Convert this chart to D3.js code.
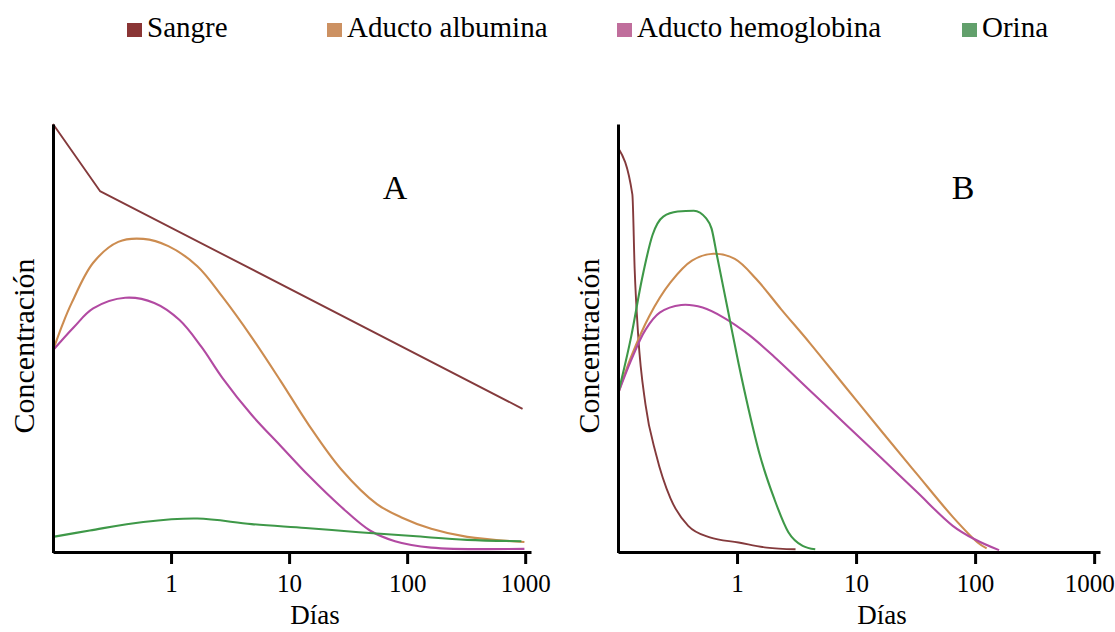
<!DOCTYPE html>
<html>
<head>
<meta charset="utf-8">
<script src="https://cdn.jsdelivr.net/npm/d3@7"></script>
<style>
  html, body { margin: 0; padding: 0; background: #fff; }
  svg { display: block; font-family: "Liberation Serif", "Times New Roman", serif; }
</style>
</head>
<body>
<div id="chart"></div>
<script>
// --- Data (x = días, y = concentración relativa) ---
const seriesNames = ["Sangre", "Aducto albumina", "Aducto hemoglobina", "Orina"];
const tickDays = [1, 10, 100, 1000];
const panelLabels = ["A", "B"];

// Panel A
const sangreA = [[0.1, 100], [0.25, 84.3], [950, 33.3]];
const albuminaA = [[0.1, 47], [0.121, 53.2], [0.144, 58.1], [0.219, 67.5], [0.357, 72.4], [0.582, 73.1], [0.949, 71.4],
  [1.67, 66.7], [2.73, 59.5], [4.81, 50.1], [8.49, 39.8], [14.7, 29.5], [27.7, 19.1], [55.5, 11.0],
  [90.6, 7.8], [160, 5.2], [323, 3.3], [985, 2.1]];
const hemoglobinaA = [[0.1, 47], [0.15, 52.4], [0.219, 56.8], [0.409, 59.3], [0.721, 58.1], [1.18, 54.1],
  [1.81, 47.8], [2.73, 40.5], [4.81, 31.9], [8.49, 24.6], [14.7, 17.6], [27.7, 10.3], [48.4, 4.8],
  [78.9, 2.3], [160, 0.8], [985, 0.5]];
const orinaA = [[0.1, 3.3], [0.205, 4.8], [0.582, 6.8], [1.67, 7.6], [4.81, 6.3], [13.8, 5.4],
  [39, 4.4], [112, 3.5], [323, 2.6], [929, 2.3]];

// Panel B
const sangreB = [[0.1, 94.5], [0.132, 83.5], [0.138, 66.1], [0.148, 50.2], [0.17, 34.4], [0.209, 22.6],
  [0.276, 12.3], [0.389, 5.9], [0.591, 3.2], [1.03, 2.0], [1.78, 0.8], [3.1, 0.4]];
const albuminaB = [[0.1, 36.8], [0.129, 45.5], [0.183, 55.0], [0.276, 62.9], [0.418, 68.0], [0.632, 69.6],
  [0.958, 68.4], [1.45, 63.7], [2.35, 56.6], [4.09, 48.7], [8.15, 38.4], [16.3, 28.1], [32.5, 18.0],
  [64.9, 8.0], [105, 2.0], [125, 0.6]];
const hemoglobinaB = [[0.1, 36.8], [0.129, 44.7], [0.17, 51.8], [0.224, 55.8], [0.34, 57.6], [0.514, 57.0],
  [0.778, 54.6], [1.26, 50.6], [2.05, 45.5], [4.09, 37.6], [8.15, 29.7], [16.3, 21.8], [32.5, 13.8],
  [64.9, 5.9], [98.2, 2.8], [159, 0.2]];
const orinaB = [[0.1, 36.8], [0.129, 50.2], [0.159, 63.7], [0.195, 74.0], [0.24, 78.3], [0.317, 79.5],
  [0.433, 79.7], [0.551, 77.9], [0.611, 75.5], [0.678, 69.2], [0.835, 56.6], [1.03, 43.9], [1.26, 32.8],
  [1.55, 22.6], [2.05, 12.3], [2.7, 4.4], [3.56, 1.2], [4.54, 0.4]];

// --- Styles ---
const legendColors = ["#8a3535", "#cc9162", "#c06e9c", "#62a06c"];
const lineColors = ["#843a3c", "#cc8c50", "#b24aa2", "#3e9848"];

const W = 1115, H = 632;
const svg = d3.select("#chart").append("svg")
  .attr("width", W).attr("height", H);

// --- Legend ---
const legendX = [127, 327, 617, 962];
const legend = svg.selectAll(".legend")
  .data(seriesNames)
  .join("g")
  .attr("class", "legend")
  .attr("transform", (d, i) => `translate(${legendX[i]}, 0)`);
legend.append("rect")
  .attr("x", 0).attr("y", 23)
  .attr("width", 15).attr("height", 14)
  .attr("fill", (d, i) => legendColors[i]);
legend.append("text")
  .attr("x", 20).attr("y", 37)
  .style("font-size", "29px")
  .attr("fill", "#000")
  .text(d => d);

// --- Panels ---
const smooth = d3.curveCatmullRom.alpha(0.5);
const panels = [
  { label: panelLabels[0], left: 53, right: 531, series: [sangreA, albuminaA, hemoglobinaA, orinaA], curves: [d3.curveLinear, smooth, smooth, smooth] },
  { label: panelLabels[1], left: 618, right: 1100, series: [sangreB, albuminaB, hemoglobinaB, orinaB], curves: [d3.curveMonotoneX, smooth, smooth, d3.curveMonotoneX] }
];

const y = d3.scaleLinear().domain([0, 100]).range([551, 124]);

panels.forEach(p => {
  const x = d3.scaleLog().domain([0.1, 1120]).range([p.left, p.right]);
  const g = svg.append("g");

  // curves
  p.series.forEach((pts, i) => {
    g.append("path")
      .datum(pts)
      .attr("fill", "none")
      .attr("stroke", lineColors[i])
      .attr("stroke-width", i === 0 ? 1.9 : 2.1)
      .attr("stroke-linejoin", "round")
      .attr("d", d3.line().x(d => x(d[0])).y(d => y(d[1])).curve(p.curves[i]));
  });

  // x axis
  const xAxis = g.append("g")
    .attr("transform", `translate(0, ${y(0) + 1})`)
    .call(d3.axisBottom(x).tickValues(tickDays).tickFormat(d3.format("d")).tickSize(12).tickSizeOuter(0).tickPadding(10));
  xAxis.select(".domain").attr("stroke", "#000").attr("stroke-width", 3);
  xAxis.selectAll(".tick line").attr("stroke", "#000").attr("stroke-width", 3);
  xAxis.selectAll(".tick text")
    .attr("fill", "#000")
    .attr("dx", d => (d === 1000 && p.label === "B") ? -5 : 0)
    .style("font-family", "'Liberation Serif', serif")
    .style("font-size", "25px");

  // y axis (no ticks)
  const yAxis = g.append("g")
    .attr("transform", `translate(${p.left}, 0)`)
    .call(d3.axisLeft(y.copy().range([552.5, 124])).tickValues([]).tickSizeOuter(0));
  yAxis.select(".domain").attr("stroke", "#000").attr("stroke-width", 3);

  // titles
  g.append("text")
    .attr("x", x(10) + 26).attr("y", 624)
    .attr("text-anchor", "middle")
    .style("font-size", "27px")
    .text("Días");
  g.append("text")
    .attr("transform", `translate(${p.left - 19}, 346) rotate(-90)`)
    .attr("text-anchor", "middle")
    .style("font-size", "30px")
    .text("Concentración");
  g.append("text")
    .attr("x", x(100) - 12).attr("y", 199)
    .attr("text-anchor", "middle")
    .style("font-size", "34px")
    .text(p.label);
});
</script>
</body>
</html>
